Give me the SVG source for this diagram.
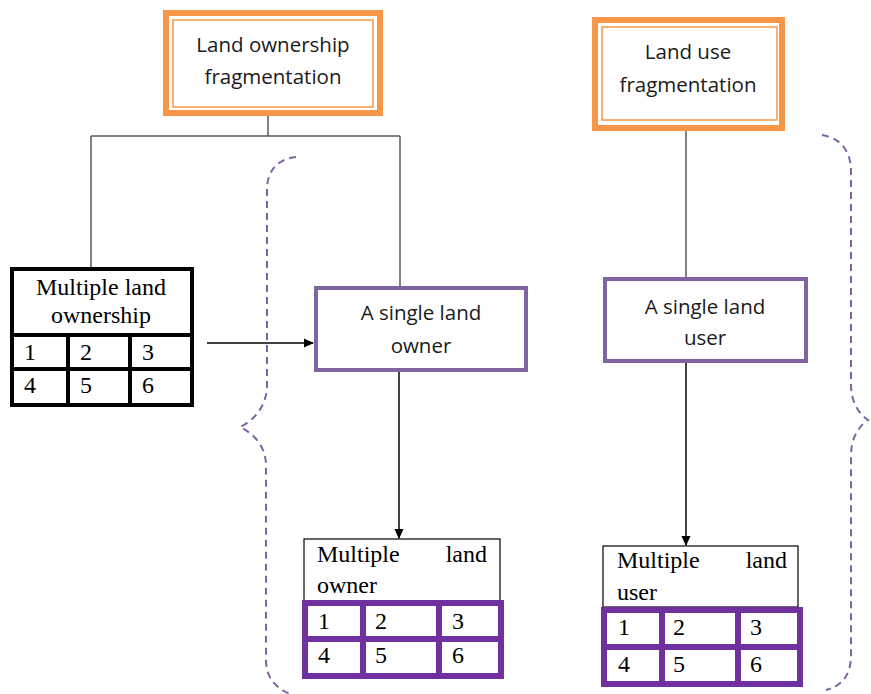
<svg xmlns="http://www.w3.org/2000/svg" width="871" height="694" viewBox="0 0 871 694">
  <style>
    .bg { fill: #ffffff; }
    .orange-outer { fill: #ffffff; stroke: #F79646; stroke-width: 6; }
    .orange-inner { fill: none; stroke: #F79646; stroke-width: 1.5; }
    .purple-box { fill: #ffffff; stroke: #8064A2; stroke-width: 4; }
    .grid-black { fill: #ffffff; stroke: #000000; stroke-width: 4; }
    .grid-purple { fill: #ffffff; stroke: #7030A0; stroke-width: 6; }
    .head-box { fill: #ffffff; stroke: #000000; stroke-width: 1.2; }
    .sans { font-family: "Open Sans", "Liberation Sans", sans-serif; font-size: 20.5px; fill: #1a1a1a; }
    .serif { font-family: "Liberation Serif", "Times New Roman", serif; font-size: 24px; fill: #000000; }
    .link { fill: none; stroke: #595959; stroke-width: 1.5; }
    .arrow { fill: none; stroke: #000000; stroke-width: 1.5; }
    .brace { fill: none; stroke: #8064A2; stroke-width: 2; stroke-dasharray: 7 5; }
  </style>
  <defs>
    <marker id="arrowhead" markerWidth="10" markerHeight="10" refX="9" refY="5" orient="auto" markerUnits="userSpaceOnUse">
      <path d="M0,0.5 L10,5 L0,9.5 Z" fill="#000000"/>
    </marker>
  </defs>

  <rect class="bg" x="0" y="0" width="871" height="694"/>

  <!-- braces grouping the single-holder boxes -->
  <g id="braces">
    <path class="brace" d="M296,157 C278,159 267,170 267,190 V385 C267,405 255,420 240,427 C255,434 266,448 266,465 V660 C266,678 276,688 290,694"/>
    <path class="brace" d="M822,135 C840,138 851,150 851,172 V385 C851,403 860,415 868,420 C860,425 851,437 851,455 V655 C851,675 842,686 826,690"/>
  </g>

  <!-- connectors -->
  <g id="connectors">
    <path class="link" d="M268,116 V136 M91,136 H400 M91,136 V268 M400,136 V287"/>
    <path class="link" d="M686,131 V277"/>
    <path class="arrow" d="M207,343 H313" marker-end="url(#arrowhead)"/>
    <path class="arrow" d="M399,372 V538" marker-end="url(#arrowhead)"/>
    <path class="arrow" d="M686,363 V545" marker-end="url(#arrowhead)"/>
  </g>

  <g id="land-ownership-fragmentation">
    <rect class="orange-outer" x="166" y="13" width="214" height="100"/>
    <rect class="orange-inner" x="173" y="20" width="200" height="87"/>
    <text class="sans" x="273" y="52" text-anchor="middle">Land ownership</text>
    <text class="sans" x="273" y="84" text-anchor="middle">fragmentation</text>
  </g>

  <g id="land-use-fragmentation">
    <rect class="orange-outer" x="595" y="20" width="187" height="108"/>
    <rect class="orange-inner" x="602" y="27" width="175" height="93"/>
    <text class="sans" x="688" y="59" text-anchor="middle">Land use</text>
    <text class="sans" x="688" y="92" text-anchor="middle">fragmentation</text>
  </g>

  <g id="multiple-land-ownership">
    <rect class="grid-black" x="12" y="269" width="180" height="136"/>
    <path d="M12,335 H192 M12,369 H192 M68,335 V405 M130,335 V405" stroke="#000000" stroke-width="4" fill="none"/>
    <text class="serif" x="101" y="295" text-anchor="middle">Multiple land</text>
    <text class="serif" x="101" y="323" text-anchor="middle">ownership</text>
    <text class="serif" x="24" y="360">1</text>
    <text class="serif" x="80" y="360">2</text>
    <text class="serif" x="142" y="360">3</text>
    <text class="serif" x="24" y="393">4</text>
    <text class="serif" x="80" y="393">5</text>
    <text class="serif" x="142" y="393">6</text>
  </g>

  <g id="single-land-owner">
    <rect class="purple-box" x="316" y="288" width="210" height="82"/>
    <text class="sans" x="421" y="320" text-anchor="middle">A single land</text>
    <text class="sans" x="421" y="353" text-anchor="middle">owner</text>
  </g>

  <g id="multiple-land-owner">
    <rect class="head-box" x="304" y="539" width="196" height="62"/>
    <text class="serif" x="317" y="562">Multiple</text>
    <text class="serif" x="487" y="562" text-anchor="end">land</text>
    <text class="serif" x="317" y="593">owner</text>
    <rect class="grid-purple" x="305" y="603" width="196" height="73"/>
    <path d="M305,639 H501 M363,603 V676 M439,603 V676" stroke="#7030A0" stroke-width="6" fill="none"/>
    <text class="serif" x="318" y="629">1</text>
    <text class="serif" x="375" y="629">2</text>
    <text class="serif" x="452" y="629">3</text>
    <text class="serif" x="318" y="663">4</text>
    <text class="serif" x="375" y="663">5</text>
    <text class="serif" x="452" y="663">6</text>
  </g>

  <g id="single-land-user">
    <rect class="purple-box" x="605" y="279" width="201" height="82"/>
    <text class="sans" x="705" y="314" text-anchor="middle">A single land</text>
    <text class="sans" x="705" y="345" text-anchor="middle">user</text>
  </g>

  <g id="multiple-land-user">
    <rect class="head-box" x="603" y="546" width="195" height="61"/>
    <text class="serif" x="617" y="568">Multiple</text>
    <text class="serif" x="787" y="568" text-anchor="end">land</text>
    <text class="serif" x="617" y="600">user</text>
    <rect class="grid-purple" x="604" y="610" width="196" height="74"/>
    <path d="M604,647 H800 M662,610 V684 M738,610 V684" stroke="#7030A0" stroke-width="6" fill="none"/>
    <text class="serif" x="618" y="635">1</text>
    <text class="serif" x="673" y="635">2</text>
    <text class="serif" x="750" y="635">3</text>
    <text class="serif" x="618" y="672">4</text>
    <text class="serif" x="673" y="672">5</text>
    <text class="serif" x="750" y="672">6</text>
  </g>
</svg>
